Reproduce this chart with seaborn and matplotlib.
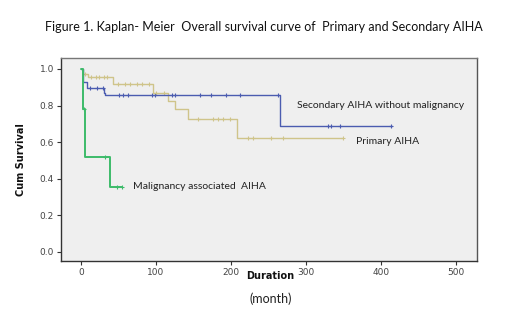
import matplotlib
matplotlib.use("Agg")
import matplotlib.pyplot as plt
import seaborn as sns
import pandas as pd

# step points (time in months, cumulative survival)
prim_t = [0, 3, 9, 43, 96, 116, 125, 143, 208, 350]
prim_s = [1.0, 0.97, 0.955, 0.915, 0.868, 0.822, 0.78, 0.727, 0.625, 0.625]
prim_cens_t = [5, 13, 20, 24, 31, 35, 49, 59, 65, 74, 81, 90, 100, 110,
               156, 176, 183, 190, 199, 223, 230, 254, 270, 350]
prim_cens_s = [0.97, 0.955, 0.955, 0.955, 0.955, 0.955, 0.915, 0.915, 0.915, 0.915, 0.915, 0.915, 0.868, 0.868,
               0.727, 0.727, 0.727, 0.727, 0.727, 0.625, 0.625, 0.625, 0.625, 0.625]

sec_t = [0, 3, 8, 30, 32, 266, 415]
sec_s = [1.0, 0.93, 0.895, 0.87, 0.855, 0.689, 0.689]
sec_cens_t = [12, 21, 29, 51, 56, 63, 94, 99, 121, 125, 159, 174, 194, 212, 263, 330, 333, 346, 414]
sec_cens_s = [0.895, 0.895, 0.895, 0.855, 0.855, 0.855, 0.855, 0.855, 0.855, 0.855, 0.855, 0.855,
              0.855, 0.855, 0.855, 0.689, 0.689, 0.689, 0.689]

mal_t = [0, 3, 5, 38, 54]
mal_s = [1.0, 0.78, 0.52, 0.355, 0.355]
mal_cens_t = [4, 32, 48, 54]
mal_cens_s = [0.78, 0.52, 0.355, 0.355]

x_ticks = [0, 100, 200, 300, 400, 500]
y_ticks = [0.0, 0.2, 0.4, 0.6, 0.8, 1.0]

groups = [
    ("Primary AIHA", prim_t, prim_s, prim_cens_t, prim_cens_s, "#cfc48a", 1.0),
    ("Secondary AIHA without malignancy", sec_t, sec_s, sec_cens_t, sec_cens_s, "#4b5cb0", 1.0),
    ("Malignancy associated AIHA", mal_t, mal_s, mal_cens_t, mal_cens_s, "#3dbb6a", 1.4),
]

sns.set_theme(style="white")
plt.rcParams['font.family'] = ['Lato', 'DejaVu Sans']

fig = plt.figure(figsize=(5.2, 3.2), dpi=100)
ax = fig.add_axes([0.117, 0.184, 0.8, 0.635])
ax.set_facecolor("#efefef")

for name, t, s, ct, cs, col, lw in groups:
    df = pd.DataFrame({"t": t, "s": s})
    sns.lineplot(data=df, x="t", y="s", ax=ax, color=col, lw=lw,
                 drawstyle="steps-post", estimator=None)
    dc = pd.DataFrame({"t": ct, "s": cs})
    sns.scatterplot(data=dc, x="t", y="s", ax=ax, color=col, marker="+",
                    s=12, linewidth=0.8)

ax.set_xlim(-27, 528)
ax.set_ylim(-0.05, 1.06)
ax.set_xticks(x_ticks)
ax.set_yticks(y_ticks)
ax.set_xticklabels([str(v) for v in x_ticks])
ax.set_yticklabels([f"{v:.1f}" for v in y_ticks])
ax.tick_params(axis="both", direction="out", length=3, width=0.8, color="#333333",
               labelsize=6.5, labelcolor="#444444", pad=2)
ax.tick_params(axis="x", bottom=True)
ax.tick_params(axis="y", left=True)
for lab in ax.get_xticklabels() + ax.get_yticklabels():
    lab.set_family("DejaVu Sans")

ax.spines["left"].set_color("#333333")
ax.spines["bottom"].set_color("#333333")
ax.spines["top"].set_color("#777777")
ax.spines["right"].set_color("#555555")
for sp in ax.spines.values():
    sp.set_linewidth(1.0)

ax.set_xlabel("")
ax.set_ylabel("")

ax.text(288, 0.80, "Secondary AIHA without malignancy", fontsize=7.5, color="#222222",
        va="center", ha="left")
ax.text(367, 0.605, "Primary AIHA", fontsize=7.5, color="#222222", va="center", ha="left")
ax.text(69, 0.355, "Malignancy associated  AIHA", fontsize=7.5, color="#222222",
        va="center", ha="left")

fig.text(0.508, 0.915, "Figure 1. Kaplan- Meier  Overall survival curve of  Primary and Secondary AIHA",
         ha="center", va="center", fontsize=9, color="#111111")
fig.text(0.04, 0.5, "Cum Survival", rotation=90, ha="center", va="center", fontsize=7,
         fontweight="bold", family=["Liberation Sans Narrow", "DejaVu Sans"], color="#111111")
fig.text(0.52, 0.137, "Duration", ha="center", va="center", fontsize=7,
         fontweight="bold", family=["DejaVu Sans"], color="#111111")
fig.text(0.52, 0.068, "(month)", ha="center", va="center", fontsize=9, color="#222222")

fig.savefig("out.png", dpi=100, facecolor="white")
